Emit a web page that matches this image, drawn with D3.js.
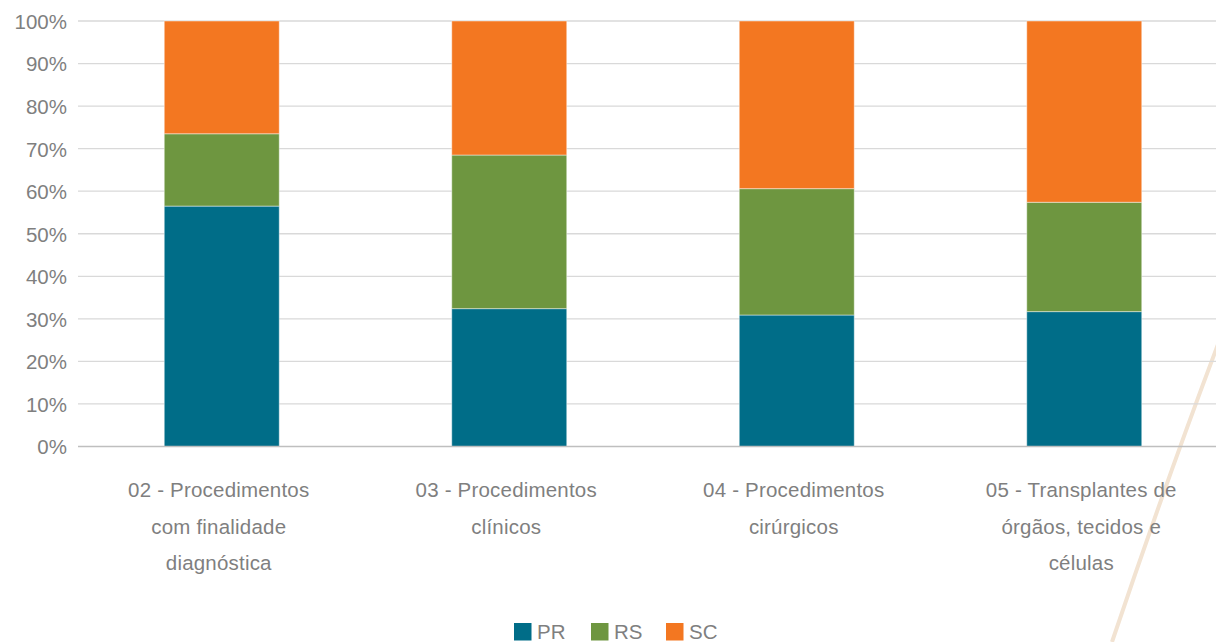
<!DOCTYPE html>
<html>
<head>
<meta charset="utf-8">
<script src="https://cdn.jsdelivr.net/npm/d3@7"></script>
<style>
  html, body { margin: 0; padding: 0; background: #fff; }
  svg text { font-family: "Liberation Sans", Arial, sans-serif; fill: #7f7f7f; }
</style>
</head>
<body>
<svg id="chart"></svg>
<script>
// Data (share of each state, %)
let categories = [
    ['02 - Procedimentos', 'com finalidade', 'diagnóstica'],
    ['03 - Procedimentos', 'clínicos'],
    ['04 - Procedimentos', 'cirúrgicos'],
    ['05 - Transplantes de', 'órgãos, tecidos e', 'células']
]
let seriesNames = ['PR', 'RS', 'SC']
let pr = [56.5, 32.4, 30.9, 31.7]
let rs = [17.0, 36.1, 29.7, 25.7]
let sc = [26.5, 31.5, 39.4, 42.6]
let yTicks = [0, 10, 20, 30, 40, 50, 60, 70, 80, 90, 100]

let colors = { PR: '#006d88', RS: '#6e9640', SC: '#f37721' }

// Graph Dimensions
let width = 1216
let height = 642
let margin = { left: 78, top: 21, bottom: 195.5 }
let plotRight = 1228
let fontSize = 20.5

// Build rows for the stack
let rows = categories.map((c, i) => ({ key: i, PR: pr[i], RS: rs[i], SC: sc[i] }))
let stacked = d3.stack().keys(seriesNames)(rows)

// Scales
let x = d3.scaleBand()
    .domain(rows.map(d => d.key))
    .range([margin.left, plotRight])
    .paddingInner(0.6)
    .paddingOuter(0.3)

let y = d3.scaleLinear()
    .domain([0, 100])
    .range([height - margin.bottom, margin.top])

let svg = d3.select('#chart')
    .attr('width', width)
    .attr('height', height)

// decorative brush stroke behind the chart
svg.append('path')
    .attr('d', 'M1228,318 Q1170,470 1112,642')
    .attr('fill', 'none')
    .attr('stroke', '#f2e3d2')
    .attr('stroke-width', 4)

// Gridlines
svg.append('g')
    .attr('class', 'grid')
    .selectAll('line')
    .data(yTicks.filter(t => t > 0))
    .enter()
    .append('line')
    .attr('x1', margin.left)
    .attr('x2', plotRight)
    .attr('y1', d => y(d))
    .attr('y2', d => y(d))
    .attr('stroke', '#d9d9d9')
    .attr('stroke-width', 1.3)

// Y axis
let yAxis = d3.axisLeft(y)
    .tickValues(yTicks)
    .tickFormat(d => d + '%')
    .tickSize(0)
    .tickPadding(10)

let gy = svg.append('g')
    .attr('transform', `translate(${margin.left - 1},0)`)
    .call(yAxis)
gy.select('.domain').remove()
gy.selectAll('text')
    .attr('font-size', fontSize)
    .attr('font-family', '"Liberation Sans", Arial, sans-serif')
    .attr('fill', '#7f7f7f')
    .attr('dy', '0.36em')

// Bars
svg.append('g')
    .selectAll('g')
    .data(stacked)
    .enter()
    .append('g')
    .attr('fill', d => colors[d.key])
    .selectAll('rect')
    .data(d => d)
    .enter()
    .append('rect')
    .attr('x', d => x(d.data.key))
    .attr('width', x.bandwidth())
    .attr('y', d => y(d[1]))
    .attr('height', d => y(d[0]) - y(d[1]))
    .attr('stroke', 'rgba(255,255,255,0.45)')
    .attr('stroke-width', 1)

// Baseline
svg.append('line')
    .attr('x1', margin.left)
    .attr('x2', plotRight)
    .attr('y1', y(0))
    .attr('y2', y(0))
    .attr('stroke', '#bfbfbf')
    .attr('stroke-width', 1.5)

// Category labels
let labels = svg.append('g')
    .selectAll('text')
    .data(categories)
    .enter()
    .append('text')
    .attr('text-anchor', 'middle')
    .attr('font-size', fontSize)
    .attr('letter-spacing', 0.2)
    .attr('x', (d, i) => x(i) + x.bandwidth() / 2 - 3)
    .attr('y', 497)

labels.selectAll('tspan')
    .data(d => d)
    .enter()
    .append('tspan')
    .attr('x', function() { return d3.select(this.parentNode).attr('x') })
    .attr('dy', (d, i) => i === 0 ? 0 : 36.5)
    .text(d => d)

// Legend
let legendX = [514, 591, 666]
let legend = svg.append('g')
    .selectAll('g')
    .data(seriesNames)
    .enter()
    .append('g')
    .attr('transform', (d, i) => `translate(${legendX[i]},623)`)

legend.append('rect')
    .attr('width', 17.5)
    .attr('height', 17.5)
    .attr('fill', d => colors[d])

legend.append('text')
    .attr('x', 23)
    .attr('y', 16)
    .attr('font-size', fontSize)
    .text(d => d)
</script>
</body>
</html>
